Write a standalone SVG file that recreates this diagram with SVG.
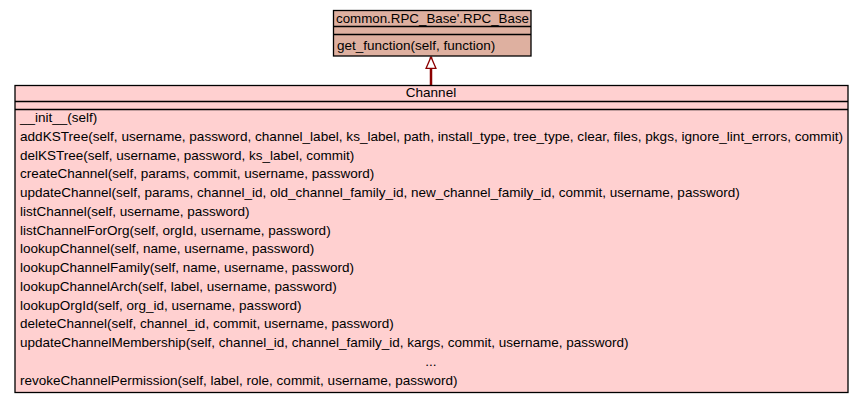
<svg xmlns="http://www.w3.org/2000/svg" width="864" height="403" viewBox="0 0 864 403">
<style>
  .box { stroke: #000; stroke-width: 1.3; }
  .sep { stroke: #000; stroke-width: 1.3; }
  text { font-family: "Liberation Sans", Arial, sans-serif; font-size: 13.5px; fill: #000; }
  .c { text-anchor: middle; }
</style>
<defs>
  <marker id="inh" markerWidth="14" markerHeight="14" refX="12" refY="6" orient="auto" markerUnits="userSpaceOnUse">
    <path d="M0.5,1 L12,6 L0.5,11 Z" fill="#fff" stroke="#8b0000" stroke-width="1.3"/>
  </marker>
</defs>
<g id="connectors">
  <line x1="431" y1="85" x2="431" y2="57" stroke="#8b0000" stroke-width="2.5" marker-end="url(#inh)"/>
</g>
<g id="base">
  <rect class="box" x="333.5" y="10.5" width="197.5" height="45.5" fill="#deb0a0"/>
  <line class="sep" x1="333.5" y1="26.5" x2="531" y2="26.5"/>
  <line class="sep" x1="333.5" y1="34.5" x2="531" y2="34.5"/>
  <text x="336" y="23" textLength="193" lengthAdjust="spacingAndGlyphs">common.RPC_Base'.RPC_Base</text>
  <text x="337" y="50">get_function(self, function)</text>
</g>
<g id="channel">
  <rect class="box" x="15" y="85.5" width="833" height="307" fill="#ffd0d0"/>
  <line class="sep" x1="15" y1="101.5" x2="848" y2="101.5"/>
  <line class="sep" x1="15" y1="109.5" x2="848" y2="109.5"/>
  <text class="c" x="431" y="97">Channel</text>
  <text x="20" y="122">__init__(self)</text>
  <text x="20" y="141" textLength="823" lengthAdjust="spacingAndGlyphs">addKSTree(self, username, password, channel_label, ks_label, path, install_type, tree_type, clear, files, pkgs, ignore_lint_errors, commit)</text>
  <text x="20" y="160">delKSTree(self, username, password, ks_label, commit)</text>
  <text x="20" y="178">createChannel(self, params, commit, username, password)</text>
  <text x="20" y="197">updateChannel(self, params, channel_id, old_channel_family_id, new_channel_family_id, commit, username, password)</text>
  <text x="20" y="216">listChannel(self, username, password)</text>
  <text x="20" y="235">listChannelForOrg(self, orgId, username, password)</text>
  <text x="20" y="253">lookupChannel(self, name, username, password)</text>
  <text x="20" y="272">lookupChannelFamily(self, name, username, password)</text>
  <text x="20" y="291">lookupChannelArch(self, label, username, password)</text>
  <text x="20" y="310">lookupOrgId(self, org_id, username, password)</text>
  <text x="20" y="328">deleteChannel(self, channel_id, commit, username, password)</text>
  <text x="20" y="347">updateChannelMembership(self, channel_id, channel_family_id, kargs, commit, username, password)</text>
  <text class="c" x="431" y="366">...</text>
  <text x="20" y="385">revokeChannelPermission(self, label, role, commit, username, password)</text>
</g>
</svg>
